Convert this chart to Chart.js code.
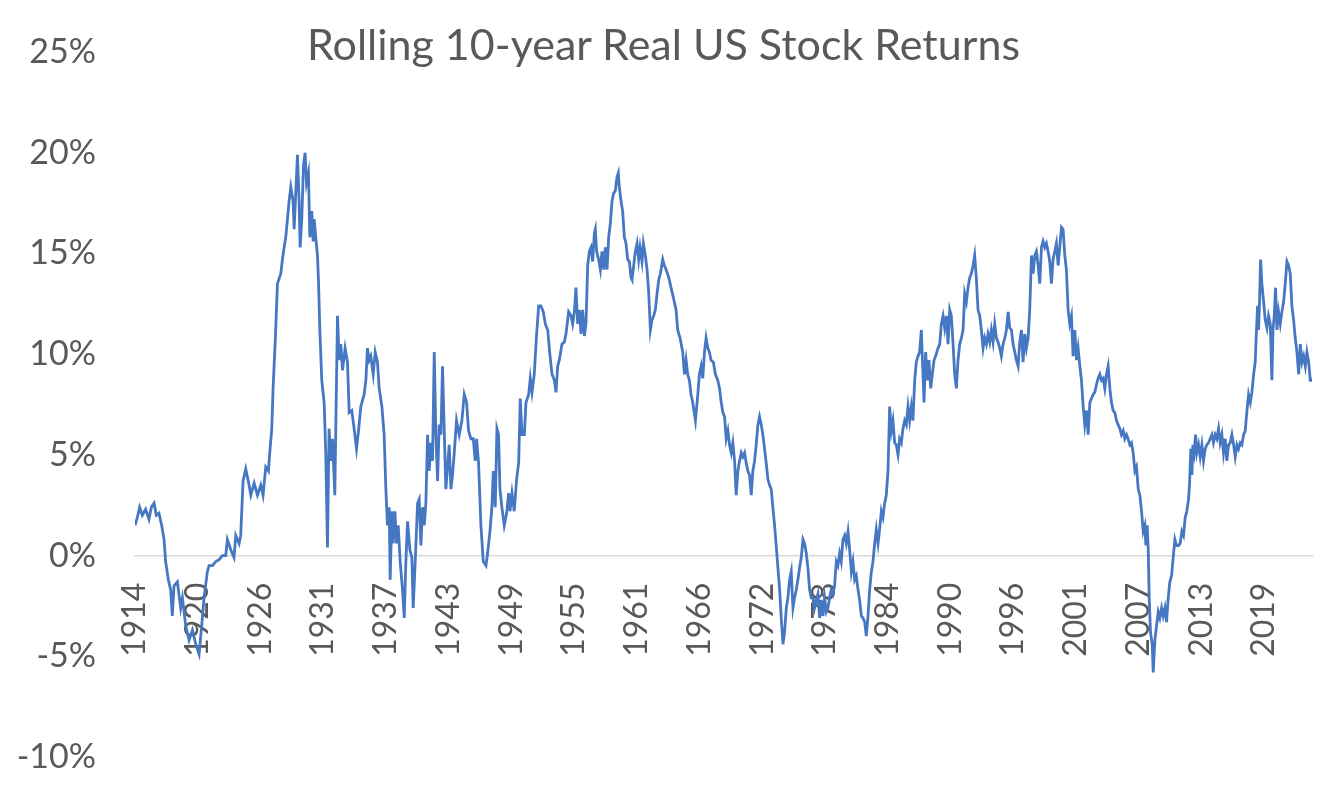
<!DOCTYPE html>
<html>
<head>
<meta charset="utf-8">
<title>Rolling 10-year Real US Stock Returns</title>
<script src="https://cdn.jsdelivr.net/npm/chart.js@4.4.1/dist/chart.umd.min.js"></script>
<style>
  html, body { margin: 0; padding: 0; background: #fff; }
  #wrap { position: relative; width: 1327px; height: 787px; }
  #wrap canvas { position: absolute; left: 0; top: 0; }
  #title {
    position: absolute; left: 0; top: 22px; width: 1327px;
    text-align: center; font: 43px Lato, sans-serif; line-height: 1;
    color: #595959;
  }
</style>
</head>
<body>
<div id="wrap">
  <canvas id="returnsChart" width="1327" height="787"></canvas>
  <div id="title">Rolling 10-year Real US Stock Returns</div>
</div>
<script>
// sample dates (decimal years) and rolling 10-year real return (%)
const sampleYears = [
  1914.40, 1914.62, 1914.83, 1915.08, 1915.39, 1915.70, 1915.92, 1916.17, 1916.38, 1916.63,
  1916.88, 1917.10, 1917.25, 1917.50, 1917.72, 1917.87, 1918.03, 1918.34, 1918.65, 1918.81,
  1919.12, 1919.43, 1919.74, 1920.05, 1920.36, 1920.60, 1920.82, 1921.13, 1921.29, 1921.60,
  1921.91, 1922.22, 1922.53, 1922.84, 1922.99, 1923.30, 1923.61, 1923.77, 1924.08, 1924.23,
  1924.45, 1924.70, 1925.01, 1925.17, 1925.48, 1925.79, 1926.10, 1926.31, 1926.56, 1926.81,
  1926.93, 1927.12, 1927.24, 1927.43, 1927.65, 1927.96, 1928.11, 1928.27, 1928.42, 1928.58,
  1928.73, 1928.89, 1929.10, 1929.20, 1929.35, 1929.51, 1929.66, 1929.76, 1929.91, 1930.07,
  1930.22, 1930.35, 1930.53, 1930.66, 1930.84, 1930.97, 1931.06, 1931.21, 1931.37, 1931.46,
  1931.59, 1931.77, 1931.99, 1932.14, 1932.30, 1932.45, 1932.61, 1932.77, 1932.98, 1933.23,
  1933.39, 1933.54, 1933.70, 1933.94, 1934.16, 1934.32, 1934.56, 1934.78, 1935.00, 1935.19,
  1935.40, 1935.71, 1935.87, 1936.02, 1936.18, 1936.33, 1936.55, 1936.74, 1936.95, 1937.11,
  1937.36, 1937.57, 1937.73, 1937.88, 1938.04, 1938.13, 1938.29, 1938.41, 1938.57, 1938.72,
  1938.88, 1939.06, 1939.28, 1939.44, 1939.59, 1939.75, 1939.96, 1940.15, 1940.27, 1940.46,
  1940.68, 1940.83, 1940.99, 1941.14, 1941.30, 1941.45, 1941.61, 1941.76, 1941.92, 1942.07,
  1942.23, 1942.38, 1942.54, 1942.69, 1942.85, 1943.00, 1943.16, 1943.31, 1943.47, 1943.62,
  1943.78, 1943.93, 1944.09, 1944.30, 1944.55, 1944.80, 1945.02, 1945.24, 1945.42, 1945.64,
  1945.86, 1946.04, 1946.17, 1946.35, 1946.57, 1946.79, 1947.04, 1947.19, 1947.41, 1947.59,
  1947.72, 1947.90, 1948.06, 1948.21, 1948.34, 1948.52, 1948.74, 1948.96, 1949.15, 1949.27,
  1949.46, 1949.67, 1949.89, 1950.08, 1950.23, 1950.39, 1950.61, 1950.76, 1951.01, 1951.16,
  1951.32, 1951.53, 1951.75, 1951.94, 1952.15, 1952.37, 1952.56, 1952.78, 1953.00, 1953.18,
  1953.40, 1953.55, 1953.71, 1953.86, 1954.11, 1954.33, 1954.48, 1954.73, 1954.95, 1955.10,
  1955.26, 1955.41, 1955.57, 1955.72, 1955.88, 1956.03, 1956.19, 1956.34, 1956.50, 1956.65,
  1956.81, 1956.96, 1957.12, 1957.21, 1957.33, 1957.52, 1957.68, 1957.83, 1957.99, 1958.14,
  1958.30, 1958.45, 1958.61, 1958.76, 1958.92, 1959.07, 1959.23, 1959.35, 1959.44, 1959.60,
  1959.75, 1959.91, 1960.06, 1960.22, 1960.38, 1960.53, 1960.62, 1960.78, 1960.93, 1961.09,
  1961.24, 1961.37, 1961.55, 1961.68, 1961.86, 1962.02, 1962.17, 1962.33, 1962.48, 1962.64,
  1962.79, 1962.95, 1963.11, 1963.26, 1963.48, 1963.63, 1963.79, 1964.04, 1964.25, 1964.47,
  1964.72, 1964.87, 1965.09, 1965.34, 1965.50, 1965.65, 1965.80, 1965.96, 1966.11, 1966.27,
  1966.52, 1966.74, 1966.89, 1967.05, 1967.20, 1967.36, 1967.51, 1967.67, 1967.82, 1967.98,
  1968.19, 1968.38, 1968.60, 1968.76, 1968.92, 1969.07, 1969.23, 1969.38, 1969.54, 1969.69,
  1969.85, 1970.00, 1970.16, 1970.31, 1970.47, 1970.62, 1970.78, 1970.93, 1971.09, 1971.24,
  1971.40, 1971.55, 1971.71, 1971.86, 1972.02, 1972.17, 1972.33, 1972.48, 1972.64, 1972.79,
  1972.95, 1973.10, 1973.26, 1973.41, 1973.57, 1973.72, 1973.88, 1974.03, 1974.19, 1974.35,
  1974.50, 1974.66, 1974.81, 1974.97, 1975.12, 1975.28, 1975.43, 1975.59, 1975.74, 1975.90,
  1976.05, 1976.21, 1976.36, 1976.52, 1976.67, 1976.83, 1976.98, 1977.14, 1977.29, 1977.45,
  1977.60, 1977.76, 1977.91, 1978.07, 1978.22, 1978.38, 1978.53, 1978.69, 1978.84, 1979.00,
  1979.15, 1979.31, 1979.46, 1979.62, 1979.77, 1979.93, 1980.08, 1980.24, 1980.40, 1980.55,
  1980.71, 1980.86, 1981.02, 1981.17, 1981.33, 1981.48, 1981.64, 1981.79, 1981.95, 1982.10,
  1982.26, 1982.41, 1982.57, 1982.72, 1982.88, 1983.03, 1983.19, 1983.34, 1983.50, 1983.65,
  1983.81, 1983.96, 1984.12, 1984.27, 1984.43, 1984.58, 1984.74, 1984.89, 1985.05, 1985.20,
  1985.36, 1985.51, 1985.67, 1985.82, 1985.98, 1986.13, 1986.29, 1986.44, 1986.60, 1986.75,
  1986.91, 1987.06, 1987.22, 1987.37, 1987.53, 1987.68, 1987.78, 1987.93, 1988.09, 1988.24,
  1988.40, 1988.55, 1988.71, 1988.86, 1989.08, 1989.24, 1989.39, 1989.55, 1989.70, 1989.86,
  1990.01, 1990.17, 1990.32, 1990.48, 1990.63, 1990.79, 1990.94, 1991.10, 1991.25, 1991.41,
  1991.56, 1991.72, 1991.87, 1992.03, 1992.18, 1992.34, 1992.49, 1992.65, 1992.80, 1992.96,
  1993.11, 1993.27, 1993.42, 1993.58, 1993.73, 1993.89, 1994.04, 1994.20, 1994.35, 1994.51,
  1994.66, 1994.82, 1994.97, 1995.13, 1995.29, 1995.44, 1995.60, 1995.75, 1995.91, 1996.06,
  1996.22, 1996.37, 1996.53, 1996.68, 1996.84, 1996.99, 1997.15, 1997.30, 1997.46, 1997.61,
  1997.77, 1997.92, 1998.08, 1998.23, 1998.39, 1998.54, 1998.70, 1998.85, 1999.01, 1999.16,
  1999.32, 1999.47, 1999.63, 1999.78, 1999.94, 2000.09, 2000.25, 2000.40, 2000.56, 2000.71,
  2000.87, 2001.02, 2001.18, 2001.33, 2001.49, 2001.64, 2001.80, 2001.96, 2002.11, 2002.27,
  2002.42, 2002.58, 2002.73, 2002.89, 2003.04, 2003.20, 2003.35, 2003.51, 2003.66, 2003.82,
  2003.97, 2004.13, 2004.28, 2004.44, 2004.59, 2004.75, 2004.90, 2005.06, 2005.21, 2005.37,
  2005.52, 2005.68, 2005.83, 2005.99, 2006.14, 2006.30, 2006.45, 2006.61, 2006.76, 2006.92,
  2007.07, 2007.23, 2007.39, 2007.54, 2007.70, 2007.85, 2008.01, 2008.16, 2008.32, 2008.41,
  2008.53, 2008.63, 2008.72, 2008.84, 2009.00, 2009.09, 2009.25, 2009.40, 2009.56, 2009.71,
  2009.87, 2010.02, 2010.18, 2010.33, 2010.49, 2010.64, 2010.80, 2010.95, 2011.11, 2011.26,
  2011.45, 2011.60, 2011.76, 2011.91, 2012.07, 2012.22, 2012.38, 2012.47, 2012.59, 2012.69,
  2012.78, 2012.90, 2013.03, 2013.15, 2013.31, 2013.46, 2013.62, 2013.77, 2013.93, 2014.08,
  2014.24, 2014.39, 2014.55, 2014.70, 2014.86, 2015.01, 2015.17, 2015.32, 2015.48, 2015.63,
  2015.79, 2015.94, 2016.10, 2016.25, 2016.41, 2016.57, 2016.72, 2016.88, 2017.03, 2017.19,
  2017.34, 2017.50, 2017.65, 2017.81, 2017.96, 2018.12, 2018.27, 2018.43, 2018.58, 2018.68,
  2018.80, 2018.89, 2018.98, 2019.08, 2019.20, 2019.36, 2019.51, 2019.67, 2019.82, 2019.98,
  2020.13, 2020.23, 2020.35, 2020.47, 2020.60, 2020.75, 2020.91, 2021.06, 2021.22, 2021.37,
  2021.53, 2021.68, 2021.84, 2021.99, 2022.15, 2022.30, 2022.46, 2022.62, 2022.77, 2022.93,
  2023.08, 2023.24, 2023.39, 2023.55, 2023.70, 2023.76,
];

const realReturns = [
  1.5, 1.9, 2.4, 2.0, 2.3, 1.8, 2.4, 2.6, 2.0, 2.1,
  1.5, 0.8, -0.3, -1.2, -1.7, -3.0, -1.5, -1.3, -2.6, -2.1,
  -3.5, -4.2, -3.7, -4.4, -4.9, -3.5, -2.1, -0.8, -0.5, -0.5,
  -0.3, -0.2, 0.0, 0.0, 0.8, 0.3, -0.1, 1.0, 0.6, 1.0,
  3.7, 4.3, 3.5, 3.0, 3.6, 3.0, 3.5, 3.0, 4.4, 4.2,
  5.1, 6.3, 8.3, 10.5, 13.5, 14.0, 14.7, 15.3, 15.8, 16.7,
  17.6, 18.3, 17.6, 16.2, 18.0, 19.9, 17.6, 15.3, 16.7, 19.4,
  20.0, 18.5, 19.0, 15.8, 17.1, 15.6, 16.7, 15.8, 14.9, 13.7,
  11.2, 8.7, 7.6, 5.1, 0.4, 6.3, 4.7, 5.8, 3.0, 11.9,
  9.7, 10.5, 9.2, 10.3, 9.6, 7.1, 7.2, 6.3, 5.3, 6.2,
  7.4, 8.0, 8.7, 10.3, 9.7, 9.9, 9.0, 10.1, 9.6, 8.3,
  7.4, 6.0, 3.3, 1.5, 2.4, -1.2, 2.2, 0.6, 2.2, 0.6,
  1.5, -0.3, -1.7, -3.1, -0.3, 1.7, 0.3, -0.1, -2.6, -0.3,
  2.6, 2.8, 0.5, 2.4, 1.5, 2.6, 6.0, 4.2, 5.6, 4.7,
  10.1, 6.0, 3.7, 6.5, 6.0, 9.4, 6.2, 3.3, 4.4, 5.5,
  3.3, 4.0, 5.1, 6.7, 6.0, 6.7, 8.0, 7.6, 6.2, 5.8,
  5.8, 4.7, 5.8, 4.6, 1.5, -0.3, -0.5, 0.1, 1.2, 2.4,
  4.2, 2.4, 6.3, 6.0, 3.3, 2.4, 1.5, 2.1, 3.1, 2.2,
  3.1, 2.2, 3.8, 4.6, 7.8, 6.0, 6.0, 7.6, 8.0, 8.8,
  8.1, 9.0, 11.0, 12.4, 12.4, 12.1, 11.5, 11.2, 9.9, 9.0,
  8.7, 8.1, 9.4, 9.7, 10.5, 10.6, 11.0, 12.1, 11.9, 11.5,
  12.1, 13.3, 11.5, 12.2, 11.0, 12.2, 10.9, 11.5, 14.4, 15.1,
  15.3, 14.6, 16.0, 16.2, 15.1, 14.7, 14.2, 15.1, 14.2, 15.3,
  14.2, 15.8, 16.5, 17.6, 18.0, 18.1, 18.8, 19.0, 18.3, 17.6,
  17.1, 15.8, 15.5, 14.7, 14.6, 13.8, 13.7, 14.4, 15.1, 15.5,
  14.7, 15.3, 14.6, 15.5, 14.9, 14.2, 13.1, 11.2, 11.7, 11.9,
  12.2, 13.0, 13.7, 14.0, 14.7, 14.4, 14.2, 13.8, 13.3, 12.8,
  12.2, 11.2, 10.8, 10.1, 9.0, 9.7, 9.0, 8.7, 8.0, 7.6,
  6.7, 8.0, 9.0, 9.4, 8.8, 10.1, 10.8, 10.3, 10.1, 9.7,
  9.6, 9.0, 8.7, 8.3, 7.6, 7.1, 6.9, 5.8, 6.2, 5.5,
  5.1, 5.6, 4.7, 3.0, 4.2, 4.7, 5.1, 4.9, 5.1, 4.6,
  4.2, 4.0, 3.0, 4.2, 4.7, 5.5, 6.5, 6.9, 6.5, 6.0,
  5.3, 4.6, 3.8, 3.5, 3.3, 2.4, 1.5, 0.5, -0.6, -1.7,
  -3.1, -4.4, -3.8, -2.6, -2.1, -1.2, -0.8, -2.6, -2.1, -1.7,
  -1.2, -0.6, -0.1, 0.8, 0.6, 0.1, -0.6, -1.7, -2.1, -2.1,
  -2.6, -2.2, -1.9, -3.1, -2.2, -3.0, -2.1, -2.8, -2.6, -2.1,
  -1.7, -1.9, -1.5, -0.3, -0.5, 0.1, -0.3, 0.8, 1.0, 0.6,
  1.2, 0.3, -0.8, -0.3, -1.2, -1.0, -1.7, -2.2, -3.0, -3.1,
  -3.3, -4.0, -3.0, -1.7, -0.8, -0.3, 0.6, 1.3, 0.6, 1.3,
  2.2, 1.9, 2.6, 3.0, 4.2, 7.4, 6.2, 6.7, 5.6, 5.5,
  5.0, 5.8, 5.6, 6.3, 6.7, 6.5, 7.4, 6.7, 7.4, 6.7,
  8.7, 9.6, 9.9, 10.1, 11.2, 9.0, 7.6, 10.1, 8.7, 9.7,
  8.3, 9.0, 9.7, 9.9, 10.3, 10.5, 11.5, 11.9, 11.3, 11.9,
  10.5, 12.2, 11.9, 10.5, 9.0, 8.3, 9.7, 10.5, 10.8, 11.2,
  13.0, 12.6, 13.3, 13.8, 14.0, 14.4, 14.9, 13.7, 12.2, 11.9,
  11.2, 10.3, 10.8, 10.5, 11.0, 10.6, 11.2, 10.6, 11.5, 10.8,
  10.6, 10.3, 9.9, 10.5, 10.8, 11.2, 12.1, 11.3, 11.2, 10.5,
  10.1, 9.7, 9.4, 10.6, 11.2, 9.6, 11.0, 10.3, 10.8, 12.2,
  14.9, 14.0, 14.9, 15.1, 14.4, 13.5, 15.3, 15.6, 15.3, 15.5,
  15.1, 14.6, 13.5, 14.7, 15.1, 15.5, 14.4, 15.3, 16.3, 16.2,
  14.9, 14.2, 12.2, 11.5, 11.9, 9.9, 11.2, 9.7, 10.3, 9.4,
  8.7, 7.4, 6.5, 7.2, 6.0, 7.6, 7.8, 8.0, 8.1, 8.5,
  8.8, 9.0, 8.7, 8.8, 8.3, 9.0, 9.4, 8.3, 7.6, 7.2,
  7.1, 6.7, 6.5, 6.3, 6.0, 6.2, 5.8, 6.0, 5.8, 5.5,
  5.6, 5.1, 4.2, 4.4, 3.3, 3.0, 2.2, 1.2, 1.5, 0.5,
  1.5, 0.3, -2.1, -3.8, -4.4, -5.8, -4.2, -3.5, -2.8, -3.1,
  -2.6, -3.0, -2.6, -3.3, -2.1, -1.3, -1.0, -0.1, 0.8, 0.5,
  0.5, 0.6, 1.2, 1.0, 1.9, 2.2, 2.8, 3.5, 5.3, 4.0,
  5.5, 5.1, 6.0, 5.1, 5.5, 4.9, 5.5, 4.7, 5.3, 5.5,
  5.6, 5.8, 6.0, 5.6, 6.0, 5.8, 6.3, 5.6, 6.0, 5.1,
  5.8, 4.7, 5.5, 5.6, 6.0, 5.5, 4.9, 5.5, 5.3, 5.6,
  5.5, 6.0, 6.2, 7.2, 8.0, 7.6, 8.1, 9.0, 9.6, 11.0,
  12.4, 11.2, 12.6, 14.7, 13.5, 12.6, 11.7, 11.3, 11.9, 11.5,
  8.7, 11.2, 11.9, 13.3, 11.2, 12.1, 11.5, 12.1, 12.6, 13.5,
  14.6, 14.4, 14.0, 12.4, 11.7, 10.8, 10.1, 9.0, 10.5, 9.6,
  9.9, 9.4, 10.1, 9.6, 8.7, 8.8,
];

// category labels shown along the horizontal axis (one every 70 months)
const tickLabels = [
  '1914', '1920', '1926', '1931', '1937', '1943', '1949', '1955', '1961', '1966',
  '1972', '1978', '1984', '1990', '1996', '2001', '2007', '2013', '2019',
];
const tickStep = 70 / 12;

const yTicks = [-10, -5, 0, 5, 10, 15, 20, 25];

(function () {
  'use strict';

  const canvas = document.getElementById('returnsChart');
  const GREY = '#595959';
  const firstYear = sampleYears[0];
  const lastYear = sampleYears[sampleYears.length - 1] + 0.1;
  const points = sampleYears.map((x, i) => ({ x: x, y: realReturns[i] }));

  // keep axis label overhang from shrinking the plot area
  function noPadding(scale) {
    scale.paddingTop = 0;
    scale.paddingBottom = 0;
    scale.paddingLeft = 0;
    scale.paddingRight = 0;
  }

  function draw() {
    new Chart(canvas, {
      type: 'line',
      data: {
        datasets: [{
          data: points,
          borderColor: '#4677c3',
          borderWidth: 2.8,
          pointRadius: 0,
          tension: 0,
          fill: false,
        }],
      },
      options: {
        responsive: false,
        animation: false,
        layout: { padding: { left: 0, right: 15, top: 52, bottom: 30 } },
        plugins: {
          legend: { display: false },
          tooltip: { enabled: false },
        },
        scales: {
          x: {
            type: 'linear',
            position: { y: 0 },
            min: firstYear,
            max: lastYear,
            afterBuildTicks: (scale) => {
              scale.ticks = tickLabels.map((_, i) => ({ value: firstYear + i * tickStep }));
            },
            afterFit: (scale) => { scale.height = 0; noPadding(scale); },
            ticks: {
              autoSkip: false,
              minRotation: 90,
              maxRotation: 90,
              padding: 27,
              color: GREY,
              font: { family: 'Lato', size: 32 },
              callback: (v, i) => tickLabels[i],
            },
            grid: { display: false, drawTicks: false },
            border: { display: true, color: '#d9d9d9', width: 1.5 },
          },
          y: {
            min: yTicks[0],
            max: yTicks[yTicks.length - 1],
            afterBuildTicks: (scale) => {
              scale.ticks = yTicks.map((v) => ({ value: v }));
            },
            afterFit: (scale) => { scale.width = 135; noPadding(scale); },
            ticks: {
              padding: 39,
              color: GREY,
              font: { family: 'Lato', size: 34 },
              callback: (v) => v + '%',
            },
            grid: { display: false, drawTicks: false },
            border: { display: false },
          },
        },
      },
    });
  }

  if (document.fonts && document.fonts.load) {
    document.fonts.load('32px Lato').then(draw, draw);
  } else {
    draw();
  }
}());
</script>
</body>
</html>
